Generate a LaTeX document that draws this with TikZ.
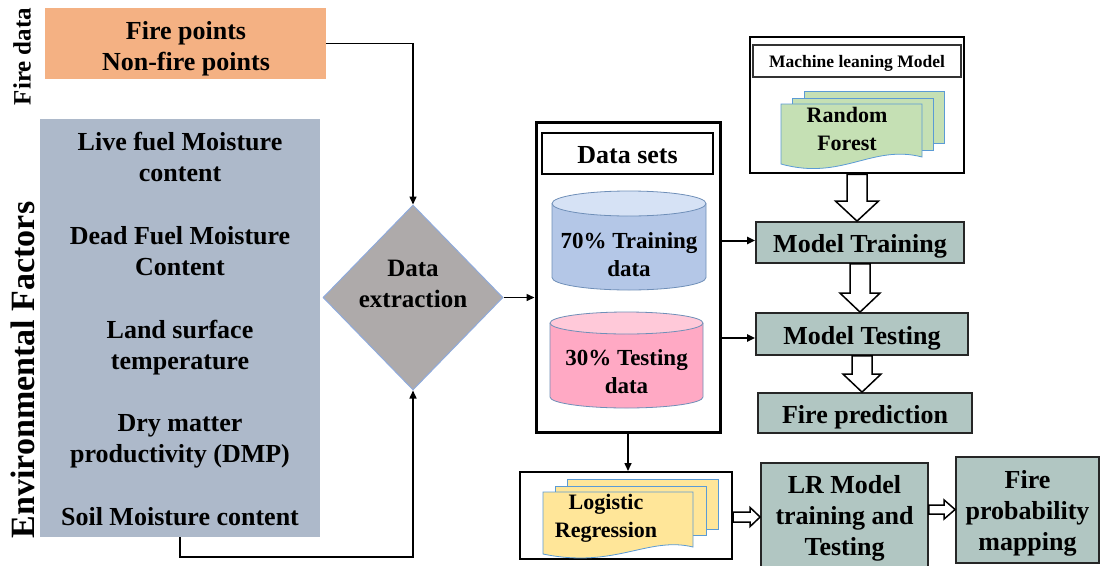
\documentclass[tikz,border=0pt]{standalone}
\usepackage{fontspec}
\setmainfont{Liberation Serif}
\usetikzlibrary{arrows.meta,shapes.geometric,calc}
\definecolor{orangeF}{HTML}{F4B183}
\definecolor{envC}{HTML}{ADB9CA}
\definecolor{diaF}{HTML}{AEAAAA}
\definecolor{diaB}{HTML}{8FAADC}
\definecolor{modC}{HTML}{B1C6C2}
\definecolor{cylB}{HTML}{B4C7E7}
\definecolor{cylBt}{HTML}{D6E2F5}
\definecolor{cylP}{HTML}{FFA9C4}
\definecolor{cylPt}{HTML}{FFC9D9}
\definecolor{cylLine}{HTML}{6F8FB8}
\definecolor{docG}{HTML}{C5E0B4}
\definecolor{docY}{HTML}{FFE699}
\definecolor{docLine}{HTML}{5B9BD5}
\newcommand\blkV[5]{\draw[blk] let \p1=(#1), \p2=(#2) in (\x1-#3pt,\y1) -- (\x1+#3pt,\y1) -- (\x1+#3pt,\y2+#5pt) -- (\x1+#4pt,\y2+#5pt) -- (\x1,\y2) -- (\x1-#4pt,\y2+#5pt) -- (\x1-#3pt,\y2+#5pt) -- cycle;}
\newcommand\blkH[6]{\draw[blk] let \p1=(#1), \p2=(#2), \p3=(0,#3) in (\x1,\y3+#4pt) -- (\x2-#6pt,\y3+#4pt) -- (\x2-#6pt,\y3+#5pt) -- (\x2,\y3) -- (\x2-#6pt,\y3-#5pt) -- (\x2-#6pt,\y3-#4pt) -- (\x1,\y3-#4pt) -- cycle;}
\tikzset{
  tA/.style={font=\fontsize{26}{31}\selectfont\bfseries, align=center, inner sep=0},
  tB/.style={font=\fontsize{23}{28}\selectfont\bfseries, align=center, inner sep=0},
  tC/.style={font=\fontsize{22}{28}\selectfont\bfseries, align=center, inner sep=0},
  tD/.style={font=\fontsize{25}{31}\selectfont\bfseries, align=center, inner sep=0},
  tE/.style={font=\fontsize{17.5}{20}\selectfont\bfseries, align=center, inner sep=0},
  tF/.style={font=\fontsize{34}{40}\selectfont\bfseries, align=center, inner sep=0},
  modbox/.style={draw=black!85, line width=1.8pt, fill=modC, inner sep=0},
  conn/.style={draw=black, line width=1.5pt, -{Triangle[length=8pt,width=7pt]}},
  conn2/.style={draw=black, line width=2pt, -{Triangle[length=8pt,width=7pt]}},
  blk/.style={draw=black, line width=1.5pt, fill=white, line join=miter},
  docb/.style={draw=docLine, line width=0.8pt},
}
\begin{document}
\begin{tikzpicture}[x=1pt,y=-1pt]
\useasboundingbox (0,0) rectangle (1102,565);
\fill[white] (0,0) rectangle (1102,565);

% left labels
\node[tD, rotate=90] (lblfire) at (22,56.5) {Fire data};
\node[tF, rotate=90] (lblenv) at (23,370) {Environmental Factors};

% fire data box
\node[fill=orangeF, minimum width=281, minimum height=71, inner sep=0] (fire) at (185.5,43.5) {};
\node[tA] (firet) at (186,48.5) {Fire points\\Non-fire points};

% environmental box
\node[fill=envC, minimum width=280, minimum height=418, inner sep=0] (env) at (180,328) {};
\node[tA] (e1) at (180,157) {Live fuel Moisture\\content};
\node[tA] (e2) at (180,251) {Dead Fuel Moisture\\Content};
\node[tA] (e3) at (180,347.5) {Land surface\\temperature};
\node[tA] (e4) at (180,441) {Dry matter\\productivity (DMP)};
\node[tA] (e5) at (180,517) {Soil Moisture content};

% diamond
\node[diamond, draw=diaB, fill=diaF, line width=1pt, minimum width=180, minimum height=185, inner sep=0] (dia) at (413,297.5) {};
\node[tD] (diat) at (413,283.5) {Data\\extraction};

% data sets
\node[draw, line width=3pt, minimum width=184, minimum height=310, inner sep=0] (ds) at (628,277) {};
\node[draw, line width=1.5pt, minimum width=171, minimum height=41, inner sep=0] (dshead) at (627.5,153.5) {};
\node[tA] (dsheadt) at (627.5,155.5) {Data sets};

% cylinder 1
\fill[cylB] (552,203.5) -- (552,277.5) arc[start angle=180,end angle=0,x radius=77,y radius=12.5] -- (706,203.5) -- cycle;
\draw[cylLine, line width=0.8pt] (552,203.5) -- (552,277.5) arc[start angle=180,end angle=0,x radius=77,y radius=12.5] -- (706,203.5);
\draw[cylLine, fill=cylBt, line width=0.8pt] (629,203.5) ellipse[x radius=77, y radius=12.5];
\node[tB] (c1t) at (629,255) {70\% Training\\data};

% cylinder 2
\fill[cylP] (550,323) -- (550,397) arc[start angle=180,end angle=0,x radius=76.5,y radius=11] -- (703,323) -- cycle;
\draw[cylLine, line width=0.8pt] (550,323) -- (550,397) arc[start angle=180,end angle=0,x radius=76.5,y radius=11] -- (703,323);
\draw[cylLine, fill=cylPt, line width=0.8pt] (626.5,323) ellipse[x radius=76.5, y radius=11];
\node[tB] (c2t) at (626.5,372) {30\% Testing\\data};

% machine learning model box
\node[draw, line width=2.5pt, minimum width=214, minimum height=136, inner sep=0] (ml) at (857,105) {};
\node[draw=black!80, line width=1.2pt, minimum width=208, minimum height=32, inner sep=0] (mlhead) at (857,61) {};
\node[tE] (mlheadt) at (857,63) {Machine leaning Model};
\filldraw[docb, fill=docG] (804,91) rectangle (944,143);
\filldraw[docb, fill=docG] (792,98) rectangle (933,150);
\filldraw[docb, fill=docG] (781,104) -- (922,104) -- (922,157) .. controls (872,144) and (842,181) .. (781,164) -- cycle;
\node[tC] (rf) at (847,129) {Random\\Forest};

% model boxes
\node[modbox, minimum width=208, minimum height=41] (mt) at (860,242.5) {};
\node[tA] (mtt) at (860,246.5) {Model Training};
\node[modbox, minimum width=212, minimum height=42] (mtest) at (862,334) {};
\node[tA] (mtestt) at (862,338.5) {Model Testing};
\node[modbox, minimum width=214, minimum height=40] (fp) at (865,413) {};
\node[tA] (fpt) at (865,417) {Fire prediction};

% logistic regression box
\node[draw, line width=2pt, minimum width=212, minimum height=87, inner sep=0] (lg) at (626,515.5) {};
\filldraw[docb, fill=docY] (567,479) rectangle (718,529);
\filldraw[docb, fill=docY] (555,486) rectangle (706,535);
\filldraw[docb, fill=docY] (543,492) -- (693,492) -- (693,547) .. controls (648,536) and (615,569) .. (543,554) -- cycle;
\node[tC] (lgt) at (606,518) {Logistic\\Regression};

% LR and mapping boxes
\node[modbox, minimum width=167, minimum height=105] (lr) at (844.5,515.5) {};
\node[tA] (lrt) at (844.5,518) {LR Model\\training and\\Testing};
\node[modbox, minimum width=143, minimum height=106] (map) at (1027.5,510) {};
\node[tA] (mapt) at (1027.5,513) {Fire\\probability\\mapping};

% connectors
\coordinate (mtin) at ([yshift=2pt]mt.west);
\coordinate (mtestin) at ([yshift=-4pt]mtest.west);
\draw[conn] (fire.east) -| (dia.north);
\draw[conn] (env.south) -- ++(0,20) -| (dia.south);
\draw[conn] (dia.east) -- (dia.east -| ds.west);
\draw[conn2] (ds.east |- mtin) -- (mtin);
\draw[conn2] (ds.east |- mtestin) -- (mtestin);
\draw[conn] (ds.south) -- (ds.south |- lg.north);

% block arrows
\blkV{ml.south}{mt.north}{10}{21.5}{20}
\blkV{mt.south}{mtest.north}{10}{20}{19}
\blkV{mtest.south}{fp.north}{10}{19}{18}
\blkH{lg.east}{lr.west}{517}{5}{9.5}{10}
\blkH{lr.east}{map.west}{509.5}{4.5}{9.5}{11}
\end{tikzpicture}
\end{document}
